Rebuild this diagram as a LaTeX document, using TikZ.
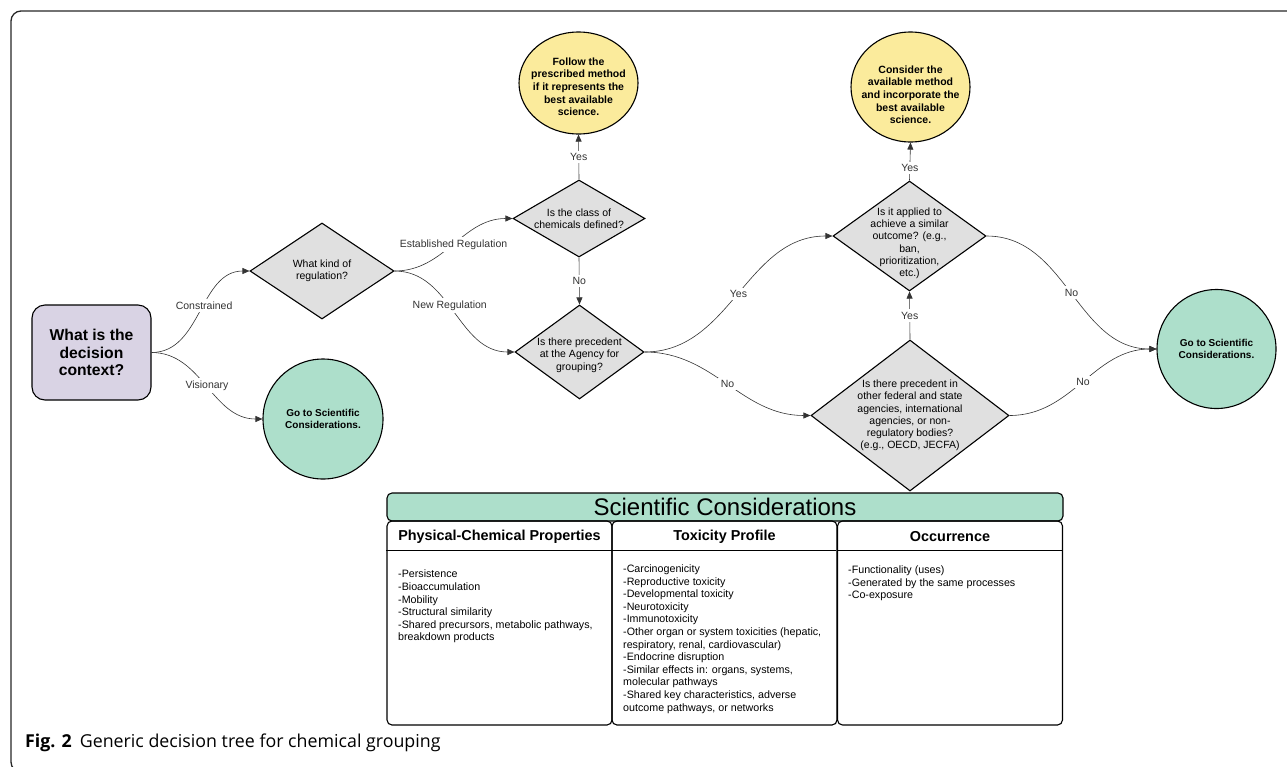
\documentclass[tikz,border=0pt]{standalone}
\usepackage{fontspec}
\setmainfont{Liberation Sans}
\newfontfamily\capfont{Open Sans}
\usepackage{xcolor}
\usepackage{tikz}
\usetikzlibrary{arrows.meta,shapes.geometric}
\definecolor{ctxbg}{HTML}{D9D3E4}
\definecolor{qgray}{HTML}{E0E0E0}
\definecolor{endyel}{HTML}{FBEB9C}
\definecolor{endgrn}{HTML}{ADDFCB}

\begin{document}
\begin{tikzpicture}[x=1pt, y=-1pt,
  q/.style={diamond, draw, line width=1.1pt, fill=qgray, inner sep=-15pt, align=center, font=\fontsize{10.5}{12.2}\selectfont},
  endy/.style={ellipse, draw, line width=1.1pt, fill=endyel, inner sep=-15pt, minimum width=119pt, align=center, font=\bfseries\fontsize{10.5}{12.6}\selectfont},
  endg/.style={circle, draw, line width=1.1pt, fill=endgrn, minimum size=120pt, inner sep=0pt, align=center, font=\bfseries\fontsize{10}{11.8}\selectfont},
  ctxbox/.style={draw, rounded corners=13pt, line width=1.1pt, fill=ctxbg, minimum width=119pt, minimum height=95pt, align=center, font=\bfseries\fontsize{15.7}{17.5}\selectfont},
  lbl/.style={fill=white, inner sep=2.5pt, font=\fontsize{10.5}{12}\selectfont},
  edge/.style={->, line width=0.6pt, black!80},
  col/.style={draw, line width=1.1pt, rounded corners=5pt, minimum width=225pt, minimum height=204pt},
  colhead/.style={font=\bfseries\fontsize{14.4}{16}\selectfont},
  items/.style={anchor=north west, inner sep=0pt, align=left, font=\fontsize{10.7}{12.6}\selectfont},
  >={Triangle[length=7pt,width=6pt]}]
\useasboundingbox (0,0) rectangle (1287,766);
% frame
\draw[line width=1.3pt, black!85, rounded corners=10pt] (1300,11) -- (11,11) -- (11,772) -- (1300,772);
% start
\node[ctxbox] (ctx) at (91.5,352.5) {What is the\\decision\\context?};
% questions
\node[q, minimum width=144pt, minimum height=96pt] (kind) at (322,271) {What kind of\\regulation?};
\node[q, minimum width=132pt, minimum height=77pt] (cls) at (579,218.5) {Is the class of\\chemicals defined?};
\node[q, minimum width=129pt, minimum height=94pt] (agency) at (579.5,352) {\rule{0pt}{14pt}Is there precedent\\at the Agency for\\grouping?};
\node[q, minimum width=153pt, minimum height=110pt] (outcome) at (909.5,236) {\rule{0pt}{22pt}Is it applied to\\achieve a similar\\outcome? (e.g.,\\ban,\\prioritization,\\etc.)};
\node[q, minimum width=198pt, minimum height=151pt] (other) at (910,415.5) {Is there precedent in\\other federal and state\\agencies, international\\agencies, or non-\\regulatory bodies?\\(e.g., OECD, JECFA)};
% outcomes
\node[endy, minimum height=102pt] (follow) at (578.5,83) {\rule{0pt}{15pt}Follow the\\prescribed method\\if it represents the\\best available\\science.};
\node[endy, minimum height=110pt] (consider) at (910.5,87) {\rule{0pt}{23pt}Consider the\\available method\\and incorporate the\\best available\\science.};
\node[endg] (vis) at (323,419) {Go to Scientific\\Considerations.};
\node[endg, minimum size=119pt] (sci2) at (1216.5,349) {Go to Scientific\\Considerations.};
% edges
\draw[edge] (ctx.east) to[out=0, in=180] node[lbl, pos=0.55] {Constrained} (kind.west);
\draw[edge] (ctx.east) to[out=0, in=180] node[lbl] {Visionary} (vis.west);
\draw[edge] (kind.east) to[out=0, in=180] node[lbl] {Established Regulation} (cls.west);
\draw[edge] (kind.east) to[out=0, in=180] node[lbl, pos=0.45] {New Regulation} (agency.west);
\draw[edge] (cls.north) -- node[lbl] {Yes} (follow.south);
\draw[edge] (cls.south) -- node[lbl] {No} (agency.north);
\draw[edge] (agency.east) to[out=0, in=180] node[lbl] {Yes} (outcome.west);
\draw[edge] (agency.east) to[out=0, in=180] node[lbl] {No} (other.west);
\draw[edge] (other.north) -- node[lbl] {Yes} (outcome.south);
\draw[edge] (outcome.north) -- node[lbl, pos=0.32] {Yes} (consider.south);
\draw[edge] (outcome.east) to[out=0, in=180] node[lbl] {No} (sci2.west);
\draw[edge] (other.east) to[out=0, in=180] node[lbl] {No} (sci2.west);
% scientific considerations table
\node[draw, line width=1.1pt, rounded corners=5pt, fill=endgrn, minimum width=676pt, minimum height=28pt, inner sep=0pt, font=\fontsize{24}{26}\selectfont] (band) at (725,507) {Scientific Considerations};
\node[col] (phys) at (499.5,623) {};
\node[col] (tox) at (724.5,623) {};
\node[col] (occ) at (950,623) {};
\foreach \c in {phys,tox,occ}
  \draw[line width=1.1pt] (\c.north west) ++(0,30) -- ++(225,0);
\node[colhead] (physh) at (499.5,537) {Physical-Chemical Properties};
\node[colhead] (toxh) at (724.5,537) {Toxicity Profile};
\node[colhead] (occh) at (950,537) {Occurrence};
\node[items] (physl) at (398,570) {-Persistence\\-Bioaccumulation\\-Mobility\\-Structural similarity\\-Shared precursors, metabolic pathways,\\breakdown products};
\node[items] (toxl) at (623,564.5) {-Carcinogenicity\\-Reproductive toxicity\\-Developmental toxicity\\-Neurotoxicity\\-Immunotoxicity\\-Other organ or system toxicities (hepatic,\\respiratory, renal, cardiovascular)\\-Endocrine disruption\\-Similar effects in: organs, systems,\\molecular pathways\\-Shared key characteristics, adverse\\outcome pathways, or networks};
\node[items] (occl) at (848,565.5) {-Functionality (uses)\\-Generated by the same processes\\-Co-exposure};
% caption
\node[anchor=west, inner sep=0pt, font=\capfont\fontsize{17.8}{21}\selectfont] (cap) at (25,743) {\textbf{Fig. 2}\hspace{8pt}Generic decision tree for chemical grouping};
\end{tikzpicture}
\end{document}
